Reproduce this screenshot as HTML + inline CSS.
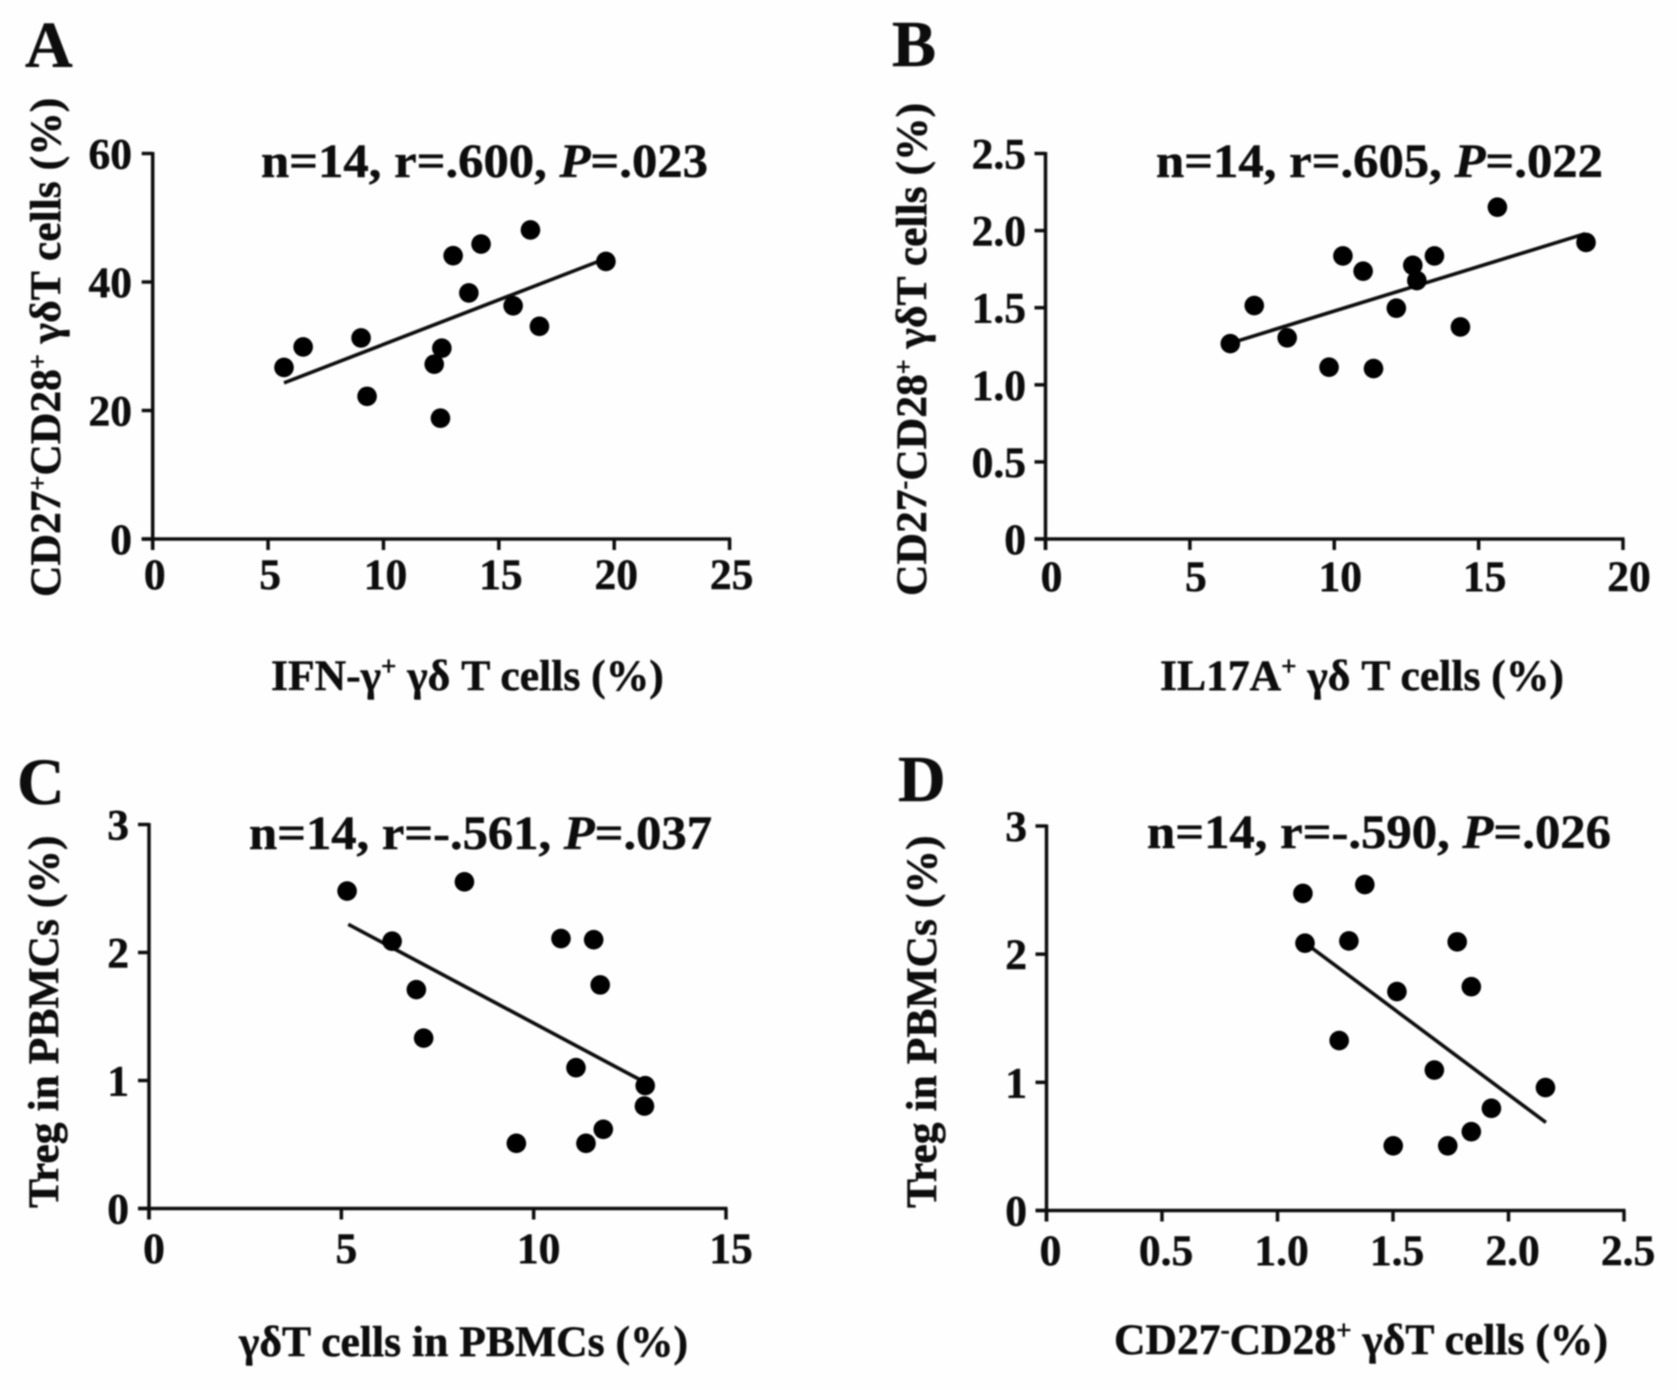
<!DOCTYPE html>
<html lang="en">
<head>
<meta charset="utf-8">
<title>Correlation scatter plots</title>
<style>
html,body{margin:0;padding:0;background:#fefefe;}
svg{display:block;}
text{font-family:"Liberation Serif","DejaVu Serif",serif;font-weight:bold;fill:#111;stroke:#111;stroke-width:0.5px;}
</style>
</head>
<body>
<svg id="fig" xmlns="http://www.w3.org/2000/svg" width="1677" height="1390" viewBox="0 0 1677 1390">
<defs><filter id="soft" x="-2%" y="-2%" width="104%" height="104%"><feGaussianBlur stdDeviation="0.7"/></filter></defs>
<g id="root" filter="url(#soft)">
  <text x="25" y="67" font-size="66">A</text>
  <text x="892" y="66" font-size="66">B</text>
  <text x="17" y="804" font-size="66">C</text>
  <text x="898" y="801" font-size="66">D</text>

  <text x="261" y="177" font-size="48" textLength="447" lengthAdjust="spacingAndGlyphs">n=14, r=.600, <tspan font-style="italic">P</tspan>=.023</text>
  <text x="1156" y="177" font-size="48" textLength="447" lengthAdjust="spacingAndGlyphs">n=14, r=.605, <tspan font-style="italic">P</tspan>=.022</text>
  <text x="249" y="849" font-size="48" textLength="463" lengthAdjust="spacingAndGlyphs">n=14, r=-.561, <tspan font-style="italic">P</tspan>=.037</text>
  <text x="1147" y="848" font-size="48" textLength="464" lengthAdjust="spacingAndGlyphs">n=14, r=-.590, <tspan font-style="italic">P</tspan>=.026</text>

  <text x="271" y="690" font-size="43.6">IFN-γ<tspan dy="-15" font-size="27">+</tspan><tspan dy="15"> γδ T cells (%)</tspan></text>
  <text x="1160" y="690" font-size="43.6">IL17A<tspan dy="-15" font-size="27">+</tspan><tspan dy="15"> γδ T cells (%)</tspan></text>
  <text x="239" y="1356" font-size="43.6">γδT cells in PBMCs (%)</text>
  <text x="1114" y="1354" font-size="43.6">CD27<tspan dy="-15" font-size="27">-</tspan><tspan dy="15">CD28</tspan><tspan dy="-15" font-size="27">+</tspan><tspan dy="15"> γδT cells (%)</tspan></text>

  <text transform="translate(60 597) rotate(-90)" font-size="43.6">CD27<tspan dy="-14" font-size="26">+</tspan><tspan dy="14">CD28</tspan><tspan dy="-14" font-size="26">+</tspan><tspan dy="14"> γδT cells (%)</tspan></text>
  <text transform="translate(926 596) rotate(-90)" font-size="43.6">CD27<tspan dy="-14" font-size="26">-</tspan><tspan dy="14">CD28</tspan><tspan dy="-14" font-size="26">+</tspan><tspan dy="14"> γδT cells (%)</tspan></text>
  <text transform="translate(58 1208) rotate(-90)" font-size="43.6">Treg in PBMCs (%)</text>
  <text transform="translate(936 1208) rotate(-90)" font-size="43.6">Treg in PBMCs (%)</text>
</g>
</svg>
<script>
// Panel A
const xValuesA = [5.69, 6.52, 9.03, 9.29, 12.2, 12.53, 12.47, 13.02, 13.7, 14.23, 15.62, 16.37, 16.76, 19.64];
const yValuesA = [26.7, 29.9, 31.3, 22.2, 27.2, 29.7, 18.8, 44.1, 38.3, 45.9, 36.3, 48.1, 33.1, 43.2];
const fitXA = [5.69, 19.6];
const fitYA = [24.3, 43.6];
const xTicksA = [0, 5, 10, 15, 20, 25];
const yTicksA = [0, 20, 40, 60];
const xTickLabelsA = ['0', '5', '10', '15', '20', '25'];
const yTickLabelsA = ['0', '20', '40', '60'];

// Panel B
const xValuesB = [6.4, 7.23, 8.37, 9.82, 10.3, 11.0, 11.36, 12.15, 12.72, 12.86, 13.47, 14.37, 15.65, 18.72];
const yValuesB = [1.267, 1.514, 1.305, 1.114, 1.836, 1.737, 1.105, 1.497, 1.775, 1.676, 1.836, 1.375, 2.152, 1.923];
const fitXB = [6.4, 18.69];
const fitYB = [1.27, 1.98];
const xTicksB = [0, 5, 10, 15, 20];
const yTicksB = [0, 0.5, 1, 1.5, 2, 2.5];
const xTickLabelsB = ['0', '5', '10', '15', '20'];
const yTickLabelsB = ['0', '0.5', '1.0', '1.5', '2.0', '2.5'];

// Panel C
const xValuesC = [5.15, 6.32, 6.95, 7.14, 8.2, 9.55, 10.71, 11.1, 11.36, 11.56, 11.73, 11.81, 12.88, 12.9];
const yValuesC = [2.48, 2.088, 1.71, 1.331, 2.552, 0.509, 2.109, 1.1, 0.509, 2.1, 1.747, 0.619, 0.8, 0.96];
const fitXC = [5.18, 12.84];
const fitYC = [2.22, 0.994];
const xTicksC = [0, 5, 10, 15];
const yTicksC = [0, 1, 2, 3];
const xTickLabelsC = ['0', '5', '10', '15'];
const yTickLabelsC = ['0', '1', '2', '3'];

// Panel D
const xValuesD = [1.11, 1.119, 1.309, 1.267, 1.378, 1.501, 1.517, 1.679, 1.737, 1.778, 1.839, 1.839, 1.926, 2.16];
const yValuesD = [2.474, 2.086, 2.103, 1.326, 2.543, 0.505, 1.708, 1.096, 0.505, 2.096, 1.746, 0.615, 0.797, 0.959];
const fitXD = [1.14, 2.162];
const fitYD = [2.06, 0.687];
const xTicksD = [0, 0.5, 1, 1.5, 2, 2.5];
const yTicksD = [0, 1, 2, 3];
const xTickLabelsD = ['0', '0.5', '1.0', '1.5', '2.0', '2.5'];
const yTickLabelsD = ['0', '1', '2', '3'];

const NS = 'http://www.w3.org/2000/svg';
const root = document.getElementById('root');

function svgEl(tag, attrs, parent) {
  const el = document.createElementNS(NS, tag);
  for (const k in attrs) el.setAttribute(k, attrs[k]);
  parent.appendChild(el);
  return el;
}

function drawPanel(p) {
  const sx = v => p.left + (v - p.xTicks[0]) / (p.xTicks[p.xTicks.length - 1] - p.xTicks[0]) * (p.right - p.left);
  const sy = v => p.bottom - (v - p.yTicks[0]) / (p.yTicks[p.yTicks.length - 1] - p.yTicks[0]) * (p.bottom - p.top);

  const g = svgEl('g', {}, root);
  
  

  const xAxis = svgEl('line', {x1: p.left - 11, y1: p.bottom, x2: p.right + 1.5, y2: p.bottom, stroke: '#111', 'stroke-width': 3.5}, g);
  
  

  const yAxis = svgEl('line', {x1: p.left, y1: p.top - 1.5, x2: p.left, y2: p.bottom + 11, stroke: '#111', 'stroke-width': 3.5}, g);
  
  

  p.xTicks.forEach((v, i) => {
    const t = svgEl('line', {x1: sx(v), y1: p.bottom, x2: sx(v), y2: p.bottom + 11, stroke: '#111', 'stroke-width': 3.5}, g);
    
    
    const l = svgEl('text', {x: sx(v) + p.xLabelShift, y: p.xLabelBase, 'font-size': 43.5, 'text-anchor': 'middle'}, g);
    l.textContent = p.xLabels[i];
    
    
  });

  p.yTicks.forEach((v, i) => {
    const t = svgEl('line', {x1: p.left - 11, y1: sy(v), x2: p.left, y2: sy(v), stroke: '#111', 'stroke-width': 3.5}, g);
    
    
    const l = svgEl('text', {x: p.yLabelRight, y: sy(v) + 15, 'font-size': 43.5, 'text-anchor': 'end'}, g);
    l.textContent = p.yLabels[i];
    
    
  });

  const fit = svgEl('line', {x1: sx(p.fitX[0]), y1: sy(p.fitY[0]), x2: sx(p.fitX[1]), y2: sy(p.fitY[1]), stroke: '#111', 'stroke-width': 3.6}, g);
  
  

  p.xs.forEach((v, i) => {
    const c = svgEl('circle', {cx: sx(v), cy: sy(p.ys[i]), r: 9.8, fill: '#000'}, g);
    
    
  });
}

drawPanel({id: 'a', left: 152.7, right: 729.6, top: 153.5, bottom: 539, xLabelShift: 2, xLabelBase: 589, yLabelRight: 132,
  xs: xValuesA, ys: yValuesA, fitX: fitXA, fitY: fitYA, xTicks: xTicksA, yTicks: yTicksA, xLabels: xTickLabelsA, yLabels: yTickLabelsA});
drawPanel({id: 'b', left: 1045.5, right: 1623, top: 153.5, bottom: 539, xLabelShift: 6, xLabelBase: 591, yLabelRight: 1026,
  xs: xValuesB, ys: yValuesB, fitX: fitXB, fitY: fitYB, xTicks: xTicksB, yTicks: yTicksB, xLabels: xTickLabelsB, yLabels: yTickLabelsB});
drawPanel({id: 'c', left: 149, right: 726, top: 824.5, bottom: 1208.5, xLabelShift: 5, xLabelBase: 1263, yLabelRight: 129,
  xs: xValuesC, ys: yValuesC, fitX: fitXC, fitY: fitYC, xTicks: xTicksC, yTicks: yTicksC, xLabels: xTickLabelsC, yLabels: yTickLabelsC});
drawPanel({id: 'd', left: 1046.5, right: 1624, top: 826, bottom: 1210.5, xLabelShift: 4, xLabelBase: 1265, yLabelRight: 1027,
  xs: xValuesD, ys: yValuesD, fitX: fitXD, fitY: fitYD, xTicks: xTicksD, yTicks: yTicksD, xLabels: xTickLabelsD, yLabels: yTickLabelsD});
</script>
</body>
</html>
